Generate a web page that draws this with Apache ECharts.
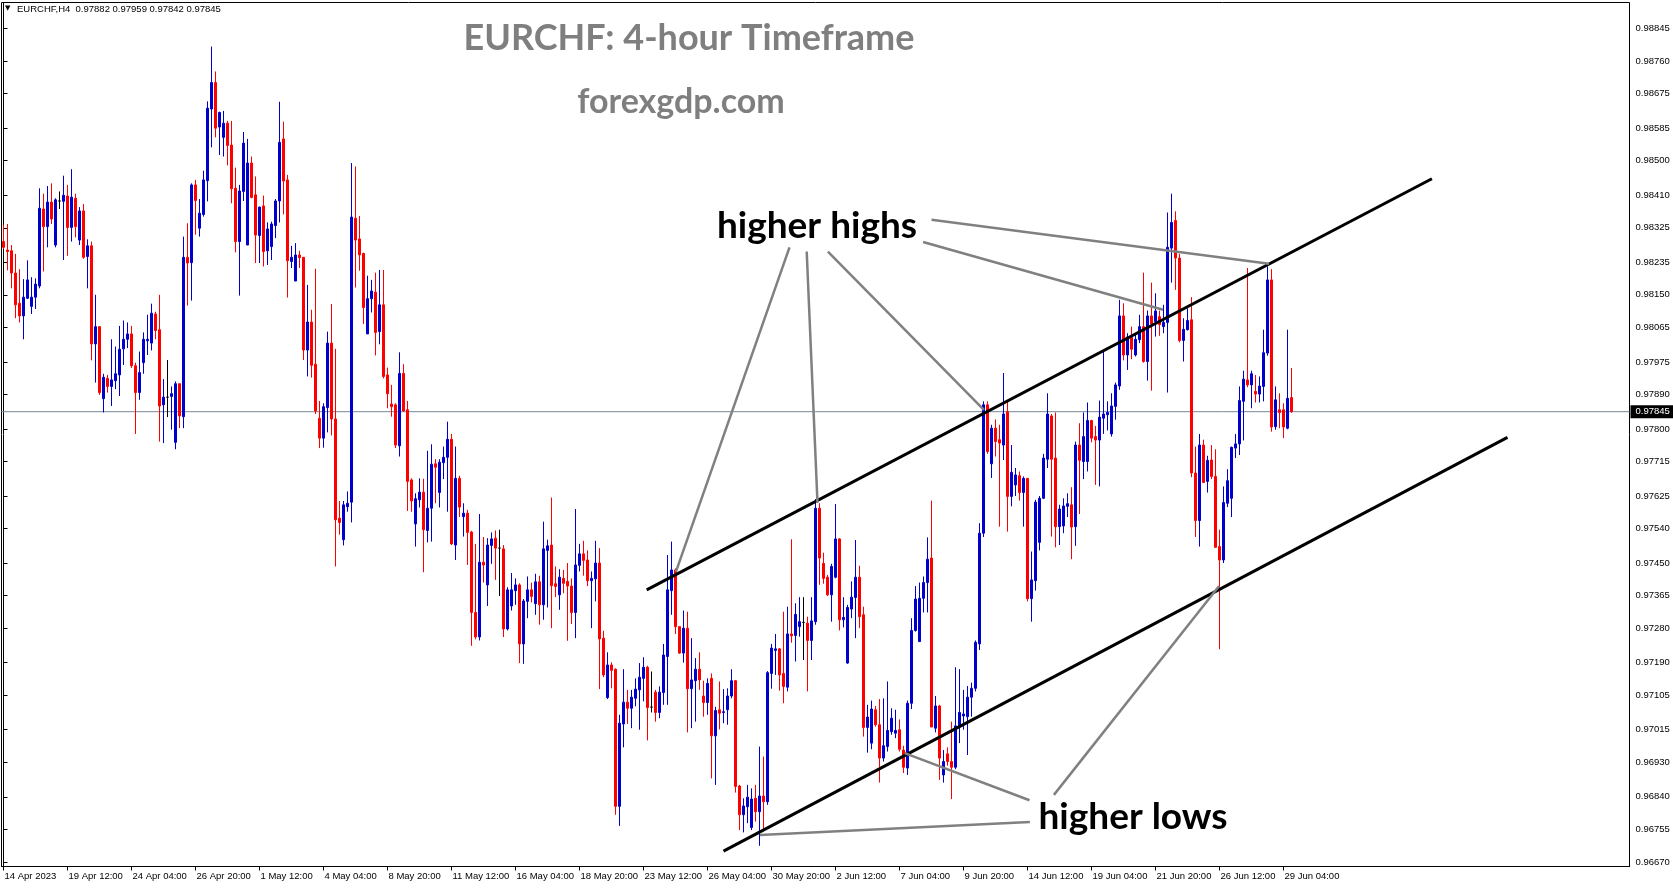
<!DOCTYPE html>
<html><head><meta charset="utf-8">
<script src="https://cdn.jsdelivr.net/npm/echarts@6/dist/echarts.min.js"></script>
<style>html,body{margin:0;padding:0;background:#fff}#c{width:1673px;height:888px}</style>
</head><body><div id="c"></div>
<script>
// ---------- DATA (EURCHF H4) ----------
const opens = [
0.98289,0.98267,0.98265,0.98207,0.98128,0.98095,0.98141,0.98120,0.98144,0.98173,
0.98374,0.98328,0.98392,0.98280,0.98395,0.98394,0.98408,0.98326,0.98402,0.98293,
0.98369,0.98250,0.98278,0.98022,0.98067,0.97879,0.97932,0.97911,0.97926,0.97941,
0.98009,0.98034,0.98048,0.97965,0.97895,0.97973,0.98030,0.98024,0.98100,0.98059,
0.97863,0.97883,0.97885,0.97765,0.97918,0.97832,0.98248,0.98234,0.98437,0.98324,
0.98360,0.98448,0.98635,0.98704,0.98588,0.98561,0.98598,0.98541,0.98428,0.98289,
0.98420,0.98280,0.98494,0.98411,0.98305,0.98382,0.98265,0.98276,0.98331,0.98395,
0.98557,0.98450,0.98237,0.98186,0.98254,0.98248,0.98006,0.98079,0.97969,0.97828,
0.97776,0.97856,0.98024,0.97826,0.97567,0.97511,0.97597,0.97609,0.98350,0.98296,
0.98258,0.98048,0.98140,0.98157,0.98054,0.98124,0.97941,0.97865,0.97863,0.97756,
0.97945,0.97850,0.97667,0.97552,0.97615,0.97635,0.97535,0.97593,0.97709,0.97634,
0.97712,0.97726,0.97773,0.97497,0.97671,0.97571,0.97580,0.97531,0.97321,0.97257,
0.97452,0.97393,0.97496,0.97515,0.97489,0.97487,0.97278,0.97338,0.97378,0.97393,
0.97239,0.97350,0.97380,0.97344,0.97401,0.97341,0.97483,0.97497,0.97396,0.97367,
0.97410,0.97402,0.97390,0.97321,0.97444,0.97474,0.97458,0.97404,0.97409,0.97450,
0.97254,0.97099,0.97184,0.97173,0.96815,0.97030,0.97087,0.97071,0.97097,0.97119,
0.97149,0.97178,0.97074,0.97113,0.97060,0.97112,0.97206,0.97378,0.97432,0.97284,
0.97215,0.97280,0.97122,0.97143,0.97173,0.97103,0.97086,0.97149,0.96999,0.97067,
0.97060,0.97067,0.97103,0.97143,0.96868,0.96793,0.96814,0.96760,0.96836,0.96801,
0.96842,0.96827,0.97162,0.97222,0.97226,0.97162,0.97126,0.97265,0.97261,0.97284,
0.97295,0.97293,0.97248,0.97297,0.97593,0.97449,0.97413,0.97367,0.97413,0.97513,
0.97302,0.97189,0.97330,0.97360,0.97413,0.97315,0.97021,0.96980,0.97067,0.97028,
0.96941,0.96971,0.97010,0.97006,0.97015,0.96962,0.96915,0.97084,0.97274,0.97245,
0.97358,0.97399,0.97463,0.97019,0.97077,0.96897,0.96952,0.96932,0.96917,0.97025,
0.97051,0.97049,0.97100,0.97123,0.97239,0.97528,0.97863,0.97709,0.97802,0.97772,
0.97758,0.97845,0.97624,0.97654,0.97678,0.97634,0.97671,0.97357,0.97404,0.97504,
0.97619,0.97721,0.97834,0.97724,0.97545,0.97547,0.97598,0.97602,0.97545,0.97758,
0.97715,0.97715,0.97822,0.97780,0.97771,0.97828,0.97837,0.97787,0.97859,0.97912,
0.98095,0.97993,0.98041,0.97993,0.98033,0.98067,0.97976,0.98095,0.98080,0.98093,
0.98067,0.98078,0.98272,0.98344,0.98246,0.98031,0.98059,0.98085,0.97685,0.97561,
0.97758,0.97663,0.97719,0.97676,0.97493,0.97458,0.97606,0.97619,0.97750,0.97761,
0.97872,0.97928,0.97915,0.97898,0.97891,0.97911,0.97998,0.98189,0.97806,0.97850,
0.97850,0.97802,0.97882];
const highs = [
0.98333,0.98335,0.98280,0.98257,0.98217,0.98191,0.98240,0.98196,0.98193,0.98428,
0.98414,0.98434,0.98441,0.98402,0.98420,0.98461,0.98437,0.98478,0.98414,0.98379,
0.98387,0.98295,0.98289,0.98150,0.98067,0.97944,0.97941,0.98034,0.98015,0.98069,
0.98083,0.98078,0.98069,0.97973,0.98002,0.98052,0.98098,0.98127,0.98106,0.98150,
0.97930,0.97980,0.97911,0.97924,0.97918,0.98302,0.98337,0.98441,0.98450,0.98400,
0.98474,0.98655,0.98798,0.98733,0.98628,0.98630,0.98604,0.98604,0.98482,0.98437,
0.98575,0.98557,0.98511,0.98459,0.98380,0.98409,0.98339,0.98341,0.98400,0.98654,
0.98602,0.98463,0.98278,0.98285,0.98265,0.98248,0.98176,0.98111,0.98218,0.97873,
0.97867,0.98054,0.98126,0.98009,0.97612,0.97612,0.97637,0.98494,0.98485,0.98356,
0.98260,0.98200,0.98189,0.98208,0.98215,0.98215,0.97960,0.97915,0.97867,0.98000,
0.97969,0.97873,0.97671,0.97632,0.97671,0.97670,0.97743,0.97760,0.97721,0.97721,
0.97754,0.97819,0.97787,0.97754,0.97678,0.97606,0.97589,0.97534,0.97500,0.97578,
0.97518,0.97515,0.97530,0.97535,0.97537,0.97497,0.97387,0.97424,0.97410,0.97397,
0.97356,0.97415,0.97399,0.97422,0.97417,0.97558,0.97511,0.97621,0.97441,0.97434,
0.97432,0.97450,0.97410,0.97591,0.97500,0.97508,0.97483,0.97428,0.97508,0.97489,
0.97273,0.97217,0.97191,0.97175,0.97054,0.97173,0.97119,0.97119,0.97149,0.97189,
0.97204,0.97182,0.97167,0.97119,0.97128,0.97239,0.97471,0.97506,0.97436,0.97284,
0.97326,0.97323,0.97254,0.97202,0.97217,0.97143,0.97149,0.97162,0.97075,0.97141,
0.97121,0.97123,0.97173,0.97145,0.96871,0.96836,0.96871,0.96862,0.96871,0.96971,
0.96945,0.97168,0.97239,0.97265,0.97228,0.97323,0.97336,0.97512,0.97345,0.97361,
0.97361,0.97310,0.97361,0.97617,0.97606,0.97477,0.97419,0.97448,0.97604,0.97515,
0.97361,0.97341,0.97402,0.97510,0.97443,0.97336,0.97080,0.97091,0.97077,0.97095,
0.97097,0.97141,0.97071,0.97067,0.97042,0.96973,0.97091,0.97306,0.97390,0.97399,
0.97415,0.97517,0.97613,0.97103,0.97080,0.96962,0.96969,0.97036,0.97178,0.97173,
0.97119,0.97129,0.97138,0.97248,0.97554,0.97872,0.97872,0.97811,0.97825,0.97811,
0.97946,0.97872,0.97758,0.97698,0.97689,0.97676,0.97671,0.97480,0.97615,0.97625,
0.97735,0.97893,0.97839,0.97843,0.97602,0.97619,0.97632,0.97648,0.97767,0.97815,
0.97843,0.97869,0.97824,0.97808,0.97874,0.98002,0.97872,0.97893,0.97921,0.98137,
0.98128,0.98050,0.98067,0.98050,0.98098,0.98208,0.98109,0.98182,0.98154,0.98109,
0.98124,0.98365,0.98414,0.98368,0.98257,0.98089,0.98115,0.98144,0.97754,0.97787,
0.97772,0.97730,0.97758,0.97747,0.97537,0.97650,0.97695,0.97754,0.97787,0.97911,
0.97952,0.98220,0.97952,0.97941,0.97937,0.98059,0.98224,0.98217,0.97911,0.97893,
0.97867,0.98059,0.97959];
const lows = [
0.98269,0.98214,0.98167,0.98089,0.98078,0.98034,0.98139,0.98100,0.98113,0.98167,
0.98211,0.98274,0.98335,0.98274,0.98374,0.98241,0.98252,0.98289,0.98300,0.98280,
0.98244,0.98167,0.97979,0.97921,0.97889,0.97843,0.97895,0.97860,0.97904,0.97886,
0.97967,0.98011,0.97959,0.97787,0.97876,0.97944,0.97993,0.98005,0.98034,0.97767,
0.97763,0.97831,0.97798,0.97747,0.97802,0.97802,0.98122,0.98135,0.98307,0.98302,
0.98354,0.98394,0.98535,0.98561,0.98515,0.98511,0.98488,0.98389,0.98261,0.98148,
0.98395,0.98280,0.98402,0.98233,0.98233,0.98224,0.98228,0.98241,0.98298,0.98339,
0.98360,0.98143,0.98220,0.98186,0.98220,0.97980,0.97937,0.97934,0.97839,0.97750,
0.97751,0.97791,0.97783,0.97441,0.97524,0.97496,0.97584,0.97556,0.98169,0.98213,
0.98074,0.98048,0.98104,0.97992,0.98021,0.97932,0.97854,0.97832,0.97750,0.97728,
0.97845,0.97586,0.97584,0.97493,0.97595,0.97426,0.97504,0.97506,0.97606,0.97595,
0.97669,0.97584,0.97497,0.97458,0.97570,0.97519,0.97445,0.97234,0.97251,0.97248,
0.97399,0.97338,0.97448,0.97406,0.97364,0.97257,0.97274,0.97326,0.97341,0.97189,
0.97187,0.97306,0.97347,0.97315,0.97289,0.97302,0.97334,0.97280,0.97361,0.97328,
0.97371,0.97247,0.97291,0.97254,0.97428,0.97417,0.97390,0.97280,0.97350,0.97121,
0.97152,0.97095,0.97123,0.96793,0.96764,0.96969,0.97030,0.97019,0.97076,0.97015,
0.97089,0.96987,0.97060,0.97036,0.97045,0.97080,0.97080,0.97315,0.97265,0.97213,
0.97190,0.97008,0.97019,0.97036,0.97119,0.97049,0.97054,0.96888,0.96871,0.97016,
0.97032,0.97028,0.97097,0.96851,0.96753,0.96747,0.96771,0.96753,0.96775,0.96712,
0.96753,0.96819,0.97122,0.97158,0.97117,0.97084,0.97115,0.97242,0.97193,0.97258,
0.97197,0.97115,0.97197,0.97289,0.97393,0.97396,0.97364,0.97297,0.97410,0.97274,
0.97282,0.97187,0.97306,0.97254,0.97280,0.96997,0.96955,0.96964,0.97023,0.96877,
0.96932,0.96958,0.97002,0.96993,0.96958,0.96902,0.96897,0.97069,0.97271,0.97245,
0.97321,0.97321,0.97022,0.97008,0.96884,0.96877,0.96921,0.96834,0.96912,0.96980,
0.97015,0.96949,0.97049,0.97115,0.97223,0.97518,0.97735,0.97672,0.97728,0.97545,
0.97719,0.97532,0.97598,0.97625,0.97613,0.97545,0.97350,0.97297,0.97378,0.97483,
0.97617,0.97698,0.97519,0.97491,0.97497,0.97528,0.97570,0.97460,0.97495,0.97578,
0.97669,0.97689,0.97765,0.97654,0.97650,0.97787,0.97796,0.97780,0.97824,0.97902,
0.97979,0.97954,0.97982,0.97989,0.98024,0.97973,0.97926,0.97900,0.98041,0.98043,
0.98050,0.97895,0.98182,0.98163,0.98026,0.97976,0.98057,0.97674,0.97518,0.97493,
0.97660,0.97634,0.97669,0.97491,0.97225,0.97450,0.97596,0.97570,0.97724,0.97732,
0.97770,0.97909,0.97854,0.97869,0.97869,0.97872,0.97991,0.97793,0.97798,0.97802,
0.97776,0.97799,0.97842];
const closes = [
0.98274,0.98263,0.98207,0.98124,0.98095,0.98144,0.98189,0.98144,0.98178,0.98376,
0.98328,0.98392,0.98348,0.98398,0.98395,0.98410,0.98326,0.98405,0.98328,0.98369,
0.98248,0.98278,0.98022,0.98067,0.97895,0.97935,0.97911,0.97928,0.97944,0.98008,
0.98034,0.98048,0.97965,0.97895,0.97947,0.98034,0.98034,0.98102,0.98057,0.97860,
0.97883,0.97883,0.97892,0.97918,0.97834,0.98248,0.98233,0.98437,0.98396,0.98363,
0.98450,0.98637,0.98704,0.98585,0.98626,0.98598,0.98540,0.98427,0.98289,0.98421,
0.98546,0.98494,0.98404,0.98306,0.98379,0.98263,0.98322,0.98335,0.98395,0.98548,
0.98447,0.98239,0.98248,0.98254,0.98247,0.98006,0.98079,0.97966,0.97847,0.97776,
0.97858,0.98024,0.97826,0.97563,0.97556,0.97602,0.97606,0.98353,0.98293,0.98254,
0.98117,0.98140,0.98160,0.98052,0.98124,0.97937,0.97892,0.97858,0.97758,0.97945,
0.97847,0.97663,0.97612,0.97618,0.97635,0.97537,0.97593,0.97708,0.97700,0.97713,
0.97726,0.97773,0.97500,0.97671,0.97596,0.97580,0.97530,0.97321,0.97257,0.97452,
0.97445,0.97497,0.97513,0.97489,0.97489,0.97278,0.97380,0.97380,0.97393,0.97239,
0.97351,0.97380,0.97363,0.97401,0.97341,0.97487,0.97495,0.97391,0.97389,0.97413,
0.97397,0.97390,0.97321,0.97445,0.97474,0.97457,0.97404,0.97410,0.97450,0.97252,
0.97158,0.97184,0.97170,0.96815,0.97032,0.97087,0.97071,0.97100,0.97121,0.97152,
0.97178,0.97073,0.97074,0.97060,0.97113,0.97210,0.97380,0.97432,0.97284,0.97215,
0.97280,0.97122,0.97145,0.97173,0.97145,0.97086,0.97136,0.96999,0.97065,0.97058,
0.97062,0.97103,0.97143,0.96867,0.96793,0.96816,0.96839,0.96834,0.96801,0.96842,
0.96827,0.97164,0.97228,0.97226,0.97158,0.97128,0.97265,0.97260,0.97316,0.97297,
0.97295,0.97248,0.97299,0.97593,0.97463,0.97410,0.97367,0.97441,0.97513,0.97302,
0.97308,0.97334,0.97361,0.97413,0.97310,0.97021,0.97048,0.97069,0.97028,0.96941,
0.96973,0.97013,0.97045,0.97013,0.96964,0.96917,0.97084,0.97274,0.97356,0.97358,
0.97399,0.97460,0.97022,0.97077,0.96941,0.96932,0.96932,0.96917,0.97025,0.97060,
0.97056,0.97100,0.97123,0.97243,0.97528,0.97863,0.97741,0.97802,0.97767,0.97763,
0.97839,0.97624,0.97687,0.97680,0.97634,0.97671,0.97357,0.97406,0.97609,0.97619,
0.97724,0.97839,0.97721,0.97545,0.97591,0.97599,0.97605,0.97544,0.97758,0.97718,
0.97780,0.97822,0.97776,0.97771,0.97831,0.97839,0.97843,0.97860,0.97915,0.98095,
0.97993,0.98040,0.98008,0.98034,0.98067,0.97976,0.98095,0.98074,0.98108,0.98072,
0.98078,0.98274,0.98339,0.98246,0.98031,0.98060,0.98083,0.97685,0.97561,0.97758,
0.97660,0.97718,0.97676,0.97491,0.97458,0.97608,0.97665,0.97752,0.97761,0.97874,
0.97930,0.97915,0.97944,0.97891,0.97912,0.97999,0.98189,0.97805,0.97876,0.97843,
0.97805,0.97880,0.97845];

// price-axis tick labels, as printed on the chart (bottom to top)
const priceTickLabels = ['0.96670','0.96755','0.96840','0.96930','0.97015','0.97105','0.97190',
  '0.97280','0.97365','0.97450','0.97540','0.97625','0.97715','0.97800','0.97890','0.97975',
  '0.98065','0.98150','0.98235','0.98325','0.98410','0.98500','0.98585','0.98675','0.98760','0.98845'];
const lastPrice = 0.97845;
const headerSymbol = 'EURCHF,H4';
const headerValues = ['0.97882','0.97959','0.97842','0.97845'];
const titleText = 'EURCHF: 4-hour Timeframe';
const siteText = 'forexgdp.com';
const highsText = 'higher highs';
const lowsText = 'higher lows';

// time axis: first bar, bar period, slots (incl. empty chart shift), label step
const firstBarUTC = [2023, 3, 14, 20];
const barHours = 4;
const totalSlots = 407;
const labelEvery = 16;
const lastLabelIndex = 320;
const yMin = 0.96658, yMax = 0.98913;

// drawn lines, as [bar index, price] end points
const channelUpper = [[160.8, 0.97380], [357.1, 0.98453]];
const channelLower = [[180.0, 0.96698], [376.0, 0.97778]];
const pointerLines = [
  [[196.5, 0.98274], [168.1, 0.97427]],
  [[200.8, 0.98263], [203.5, 0.97607]],
  [[206.1, 0.98263], [245.1, 0.97850]],
  [[229.9, 0.98288], [289.9, 0.98111]],
  [[232.0, 0.98346], [316.4, 0.98231]],
  [[225.3, 0.96954], [256.5, 0.96831]],
  [[189.1, 0.96740], [256.6, 0.96774]],
  [[262.6, 0.96845], [303.9, 0.97390]]
];

// ---------- BUILD ----------
const MONTHS = ['Jan','Feb','Mar','Apr','May','Jun','Jul','Aug','Sep','Oct','Nov','Dec'];
const pad = n => (n < 10 ? '0' : '') + n;
const categories = [];
let t = Date.UTC(firstBarUTC[0], firstBarUTC[1], firstBarUTC[2], firstBarUTC[3]);
for (let i = 0; i < totalSlots; i++) {
  const d = new Date(t);
  categories.push(i === 0
    ? d.getUTCDate() + ' ' + MONTHS[d.getUTCMonth()] + ' ' + d.getUTCFullYear()
    : d.getUTCDate() + ' ' + MONTHS[d.getUTCMonth()] + ' ' + pad(d.getUTCHours()) + ':' + pad(d.getUTCMinutes()));
  t += barHours * 3600e3;
  while ([0, 6].includes(new Date(t).getUTCDay())) t += barHours * 3600e3;
}
const showIdx = (i) => i % labelEvery === 0 && i <= lastLabelIndex;
const candleData = opens.map((o, i) => [o, closes[i], lows[i], highs[i]]);
const tickValues = priceTickLabels.map(Number);

const axisFont = { fontFamily: 'Liberation Sans', fontSize: 9.5, color: '#000' };
const lineSeries = (pts, color, width, z) => ({
  type: 'line', xAxisIndex: 1, yAxisIndex: 0, data: pts, showSymbol: false, symbol: 'none',
  silent: true, z: z || 5, animation: false,
  lineStyle: { color, width, cap: 'butt' }
});
const priceLine = lineSeries([[-0.5, lastPrice], [totalSlots - 0.5, lastPrice]], '#778899', 1, 2);
priceLine.endLabel = { show: true, formatter: lastPrice.toFixed(5), distance: 1, backgroundColor: '#000', color: '#fff',
  fontFamily: 'Liberation Sans', fontSize: 9.5, padding: [2, 5, 1, 5] };

const chart = echarts.init(document.getElementById('c'), null, { renderer: 'canvas' });
chart.setOption({
  animation: false,
  backgroundColor: '#fff',
  grid: { left: 1.5, right: 43.5, top: 2.5, bottom: 21.5, show: true, borderColor: '#000', borderWidth: 1, backgroundColor: '#fff' },
  xAxis: [{
    type: 'category', data: categories, boundaryGap: true,
    axisLine: { show: true, lineStyle: { color: '#000', width: 1 } },
    axisTick: { show: true, alignWithLabel: true, interval: (i) => showIdx(i), length: 4, lineStyle: { color: '#000' } },
    axisLabel: Object.assign({ show: true, interval: (i) => showIdx(i), align: 'left', margin: 5, padding: [0, 0, 0, 1] }, axisFont),
    splitLine: { show: false }
  }, {
    type: 'value', min: -0.5, max: totalSlots - 0.5, show: false
  }],
  yAxis: [{
    type: 'value', position: 'right', min: yMin, max: yMax, scale: true,
    axisLine: { show: true, lineStyle: { color: '#000', width: 1 } },
    axisTick: { show: true, length: 4, customValues: tickValues, lineStyle: { color: '#000' } },
    axisLabel: Object.assign({ show: true, customValues: tickValues, margin: 6, formatter: v => v.toFixed(5) }, axisFont),
    splitLine: { show: false }
  }],
  series: [priceLine, {
    type: 'candlestick', data: candleData, barWidth: 2, z: 3,
    itemStyle: { color: '#0000CD', color0: '#FF0000', borderColor: '#0000CD', borderColor0: '#FF0000', borderColorDoji: '#000000', borderWidth: 1 },
    emphasis: { disabled: true }, silent: true
  },
  lineSeries(channelUpper, '#000', 3),
  lineSeries(channelLower, '#000', 3)
  ].concat(pointerLines.map(p => lineSeries(p, '#808080', 2.5))),
  graphic: [
    { type: 'text', left: 5, top: 5, style: { text: '\u25BC', font: '7px "DejaVu Sans"', fill: '#000' }, silent: true },
    { type: 'text', left: 17, top: 4, style: { text: headerSymbol + '  ' + headerValues.join(' '), font: '9.5px "Liberation Sans"', fill: '#000' }, silent: true },
    { type: 'text', x: 689, y: 38, style: { text: titleText, font: 'bold 36px Lato', fill: '#7F7F7F', textAlign: 'center', textVerticalAlign: 'middle' }, silent: true, z: 10 },
    { type: 'text', x: 681, y: 102, style: { text: siteText, font: 'bold 34px Lato', fill: '#7F7F7F', textAlign: 'center', textVerticalAlign: 'middle' }, silent: true, z: 10 },
    { type: 'text', x: 817, y: 226, style: { text: highsText, font: 'bold 37px Lato', fill: '#000', textAlign: 'center', textVerticalAlign: 'middle' }, silent: true, z: 10 },
    { type: 'text', x: 1133, y: 817, style: { text: lowsText, font: 'bold 37px Lato', fill: '#000', textAlign: 'center', textVerticalAlign: 'middle' }, silent: true, z: 10 }
  ]
});
</script>
</body></html>
